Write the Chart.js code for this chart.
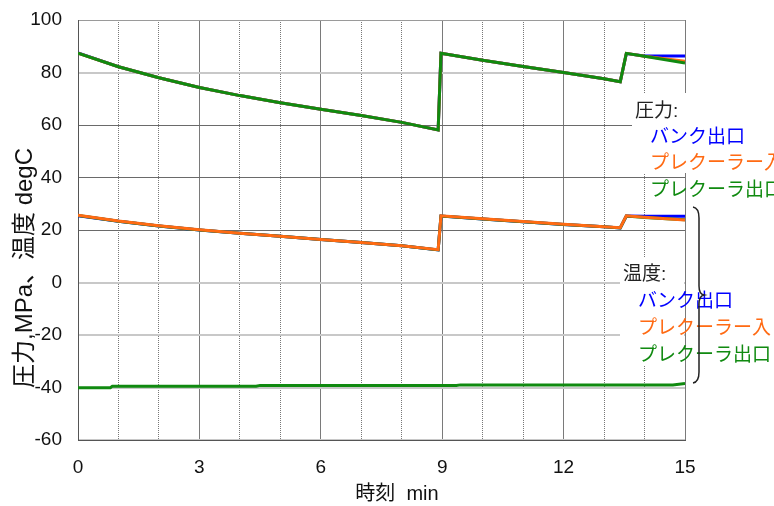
<!DOCTYPE html>
<html>
<head>
<meta charset="utf-8">
<script src="https://cdn.jsdelivr.net/npm/chart.js"></script>
<style>
  html, body { margin: 0; padding: 0; background: #fff; }
  #wrap { position: relative; width: 774px; height: 506px; }
</style>
</head>
<body>
<div id="wrap"><canvas id="chart" width="774" height="506"></canvas></div>
<script>
// 時刻 min
const timeP = [0, 1, 2, 3, 4, 5, 6, 7, 8, 8.9, 8.97, 10, 11, 12, 13, 13.4, 13.55, 14, 15];
// 圧力
const pressBank   = [87.5, 82.2, 78.0, 74.3, 71.2, 68.5, 66.0, 63.6, 61.0, 58.1, 87.3, 84.7, 82.3, 80.0, 77.6, 76.5, 87.2, 86.3, 86.3];
const pressPreIn  = [87.4, 82.2, 78.0, 74.3, 71.2, 68.5, 66.0, 63.6, 61.0, 58.1, 87.3, 84.7, 82.3, 80.0, 77.6, 76.5, 87.3, 86.2, 84.3];
const pressPreOut = [87.4, 82.2, 78.0, 74.3, 71.2, 68.5, 66.0, 63.6, 61.0, 58.1, 87.3, 84.7, 82.3, 80.0, 77.6, 76.5, 87.3, 86.2, 83.6];
// 温度
const tempBank    = [25.4, 23.3, 21.5, 20.0, 18.8, 17.6, 16.4, 15.2, 14.0, 12.4, 25.3, 24.2, 23.1, 22.1, 21.2, 20.8, 25.3, 25.2, 25.2];
const tempPreIn   = [25.6, 23.4, 21.6, 20.1, 18.8, 17.6, 16.4, 15.2, 14.0, 12.5, 25.4, 24.3, 23.2, 22.2, 21.2, 20.9, 25.4, 24.9, 23.8];
const tempPreOut  = [25.5, 23.3, 21.5, 20.0, 18.8, 17.6, 16.4, 15.2, 14.0, 12.4, 25.3, 24.2, 23.1, 22.1, 21.2, 20.8, 25.3, 24.8, 23.9];
// 下の線
const timeLow = [0, 0.8, 0.85, 4.4, 4.5, 9.35, 9.45, 14.7, 15];
const lowOut  = [-40.1, -40.1, -39.5, -39.5, -39.2, -39.2, -39.0, -39.0, -38.5];

const xTickLabels = ['0', '3', '6', '9', '12', '15'];
const seriesNames = ['バンク出口', 'プレクーラー入', 'プレクーラ出口'];

const BLUE = '#0000ff', ORANGE = '#ff6a13', GREEN = '#108a10';
const NUM_FONT = '"Liberation Sans", Arial, "Noto Sans CJK JP", sans-serif';
const JP_FONT = '"Liberation Sans", "Noto Sans CJK JP", sans-serif';

function pts(xs, ys) { return xs.map((x, i) => ({ x: x, y: ys[i] })); }
function line(label, xs, ys, color, order) {
  return { label: label, data: pts(xs, ys), borderColor: color, backgroundColor: color,
           borderWidth: 3, pointRadius: 0, tension: 0, order: order };
}

// 凡例の文字・括弧・軸タイトル
const notes = {
  id: 'notes',
  afterDraw(chart) {
    const c = chart.ctx;
    c.save();
    c.fillStyle = '#fff';
    c.fillRect(632, 93, 142, 80);
    c.fillRect(620, 258, 64, 108);
    c.fillRect(686, 258, 88, 108);
    c.font = '19px ' + JP_FONT;
    c.textBaseline = 'middle';
    c.textAlign = 'left';
    const rows = [
      ['圧力:', '#222', 635, 112],
      [seriesNames[0], BLUE, 650, 138],
      [seriesNames[1], ORANGE, 650, 164],
      [seriesNames[2], GREEN, 650, 191],
      ['温度:', '#222', 623, 275],
      [seriesNames[0], BLUE, 638, 302],
      [seriesNames[1], ORANGE, 638, 329],
      [seriesNames[2], GREEN, 638, 356]
    ];
    rows.forEach(r => { c.fillStyle = r[1]; c.fillText(r[0], r[2], r[3]); });
    // 括弧
    c.strokeStyle = '#222';
    c.lineWidth = 1.5;
    c.beginPath();
    c.moveTo(693, 207);
    c.quadraticCurveTo(699, 208, 699, 218);
    c.lineTo(699, 286);
    c.quadraticCurveTo(699, 294, 704, 295);
    c.quadraticCurveTo(699, 296, 699, 304);
    c.lineTo(699, 372);
    c.quadraticCurveTo(699, 382, 693, 383);
    c.stroke();
    // 横軸タイトル
    c.fillStyle = '#111';
    c.textAlign = 'center';
    c.font = '20px ' + JP_FONT;
    c.fillText('時刻  min', 397, 494);
    // 縦軸タイトル
    c.translate(25, 268);
    c.rotate(-Math.PI / 2);
    c.font = '24px ' + JP_FONT;
    c.fillText('圧力,MPa、温度 degC', 0, 0);
    c.restore();
  }
};

function yGridColor(v) {
  if (v === 60 || v === 40 || v === 20) return '#6a6a6a';
  if (v === 100) return '#9a9a9a';
  return '#c8c8c8';
}
function yGridWidth(v) {
  if (v === 60 || v === 40 || v === 20 || v === 100) return 1;
  return 2;
}

new Chart(document.getElementById('chart'), {
  type: 'line',
  data: {
    datasets: [
      line(seriesNames[0], timeP, pressBank, BLUE, 3),
      line(seriesNames[1], timeP, pressPreIn, ORANGE, 2),
      line(seriesNames[2], timeP, pressPreOut, GREEN, 1),
      line(seriesNames[0], timeP, tempBank, BLUE, 3),
      line(seriesNames[2], timeP, tempPreOut, GREEN, 2),
      line(seriesNames[1], timeP, tempPreIn, ORANGE, 1),
      line('低温', timeLow, lowOut, GREEN, 1)
    ]
  },
  options: {
    responsive: false,
    animation: false,
    layout: { padding: { left: 0, top: 20, right: 89, bottom: 0 } },
    plugins: { legend: { display: false }, tooltip: { enabled: false } },
    scales: {
      x: {
        type: 'linear', min: 0, max: 15,
        afterFit: s => { s.height = 66; s.paddingLeft = 0; s.paddingRight = 0; },
        ticks: {
          stepSize: 1, autoSkip: false, padding: 16, color: '#111',
          font: { family: NUM_FONT, size: 19 },
          callback: v => xTickLabels.includes(String(v)) ? String(v) : ''
        },
        grid: {
          drawTicks: false,
          color: ctx => (ctx.tick && ctx.tick.value % 3 === 0) ? '#7a7a7a' : '#777',
          lineWidth: 1
        },
        border: {
          color: '#555', width: 1,
          dash: ctx => (ctx.tick && ctx.tick.value % 3 !== 0) ? [1, 1] : []
        }
      },
      y: {
        min: -60, max: 100,
        afterFit: s => { s.width = 78; s.paddingTop = 0; s.paddingBottom = 0; },
        ticks: {
          stepSize: 20, padding: 16, color: '#111',
          font: { family: NUM_FONT, size: 19 }
        },
        grid: {
          drawTicks: false,
          color: ctx => ctx.tick ? yGridColor(ctx.tick.value) : '#555',
          lineWidth: ctx => ctx.tick ? yGridWidth(ctx.tick.value) : 1
        },
        border: { color: '#555', width: 1 }
      }
    }
  },
  plugins: [notes]
});
</script>
</body>
</html>
